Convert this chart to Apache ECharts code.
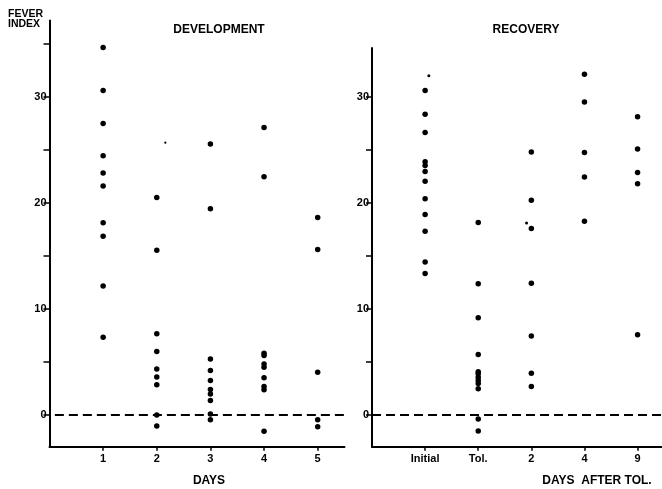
<!DOCTYPE html>
<html><head><meta charset="utf-8">
<script src="https://cdn.jsdelivr.net/npm/echarts@6/dist/echarts.min.js"></script>
<style>html,body{margin:0;padding:0;background:#fff}#c{width:662px;height:489px}</style>
</head><body><div id="c"></div>
<script>
// ---- Development panel (x = day 1..5) ----
const devDays = [1, 2, 3, 4, 5];
const dev1 = [34.65, 30.59, 27.47, 24.44, 22.81, 21.58, 18.11, 16.85, 12.16, 7.33];
const dev2 = [20.51, 15.53, 7.66, 5.98, 4.33, 3.58, 2.85, 0.0, -1.04];
const dev3 = [25.55, 19.43, 5.26, 4.19, 3.24, 2.40, 1.96, 1.35, 0.09, -0.45];
const dev4 = [27.09, 22.46, 5.82, 5.60, 4.80, 4.50, 3.50, 2.68, 2.37, -1.55];
const dev5 = [18.62, 15.60, 4.03, -0.47, -1.13];
// ---- Recovery panel ----
const recCats = ["Initial", "Tol.", "2", "4", "9"];
const recInitial = [30.59, 28.36, 26.65, 23.87, 23.52, 22.95, 22.03, 20.40, 18.90, 17.33, 14.42, 13.33];
const recTol = [18.15, 12.38, 9.17, 5.70, 4.07, 3.88, 3.55, 3.24, 2.97, 2.46, -0.38, -1.52];
const rec2 = [24.79, 20.25, 17.58, 12.41, 7.45, 3.92, 2.68];
const rec4 = [32.14, 29.52, 24.76, 22.43, 18.27];
const rec9 = [28.13, 25.08, 22.87, 21.80, 7.56];
// small specks (x position, value)
const devSpecks = [[2.16, 25.67]];
const recSpecks = [[1.07, 31.98], [2.91, 18.10]];
// ticks and reference level
const yTickVals = [0, 5, 10, 15, 20, 25, 30, 35];
const yLabelVals = [0, 10, 20, 30];
const baseline = 0;
const devXRange = [0.1, 5.5];
const recXRange = [0, 5.46];

const devGroups = [dev1, dev2, dev3, dev4, dev5];
const recGroups = [recInitial, recTol, rec2, rec4, rec9];
const devData = [];
devGroups.forEach((g, i) => g.forEach(v => devData.push([devDays[i], v])));
const recData = [];
recGroups.forEach((g, i) => g.forEach(v => recData.push([i + 1, v])));

const FONT = 'Liberation Sans';
function axisLine() {
  return {show: true, onZero: false, lineStyle: {color: '#000', width: 2}};
}
function dashedSeries(xi, range) {
  return {type: 'line', xAxisIndex: xi, yAxisIndex: xi, silent: true, symbol: 'none',
    data: [[range[0], baseline], [range[1], baseline]],
    lineStyle: {color: '#000', width: 2, type: [9, 5]}, z: 1};
}
const dot = {color: '#000', opacity: 1};

const chart = echarts.init(document.getElementById('c'), null, {renderer: 'canvas'});
chart.setOption({
  animation: false,
  backgroundColor: '#fff',
  title: [
    {text: 'DEVELOPMENT', left: 219, top: 24, textAlign: 'center', padding: 0,
     textStyle: {fontFamily: FONT, fontWeight: 'bold', fontSize: 12, color: '#000'}},
    {text: 'RECOVERY', left: 526, top: 24, textAlign: 'center', padding: 0,
     textStyle: {fontFamily: FONT, fontWeight: 'bold', fontSize: 12, color: '#000'}},
    {text: 'FEVER\nINDEX', left: 8, top: 9, padding: 0,
     textStyle: {fontFamily: FONT, fontWeight: 'bold', fontSize: 10.5, lineHeight: 10, color: '#000'}},
    {text: 'DAYS', left: 209, top: 475, textAlign: 'center', padding: 0,
     textStyle: {fontFamily: FONT, fontWeight: 'bold', fontSize: 12, color: '#000'}},
    {text: 'DAYS  AFTER TOL.', left: 597, top: 475, textAlign: 'center', padding: 0,
     textStyle: {fontFamily: FONT, fontWeight: 'bold', fontSize: 12, color: '#000'}}
  ],
  grid: [
    {left: 49.5, top: 20.4, width: 295, height: 426.3},
    {left: 372, top: 48.1, width: 292, height: 398.6}
  ],
  xAxis: [
    {gridIndex: 0, type: 'value', min: 0, max: 5.5, axisLine: axisLine(), splitLine: {show: false},
      axisTick: {show: true, customValues: devDays, length: 4, lineStyle: {color: '#000', width: 1.5}},
      axisLabel: {customValues: devDays, margin: 7, color: '#000', fontFamily: FONT, fontWeight: 'bold', fontSize: 11}},
    {gridIndex: 1, type: 'value', min: 0, max: 5.46, axisLine: axisLine(), splitLine: {show: false},
      axisTick: {show: true, customValues: [1, 2, 3, 4, 5], length: 4, lineStyle: {color: '#000', width: 1.5}},
      axisLabel: {customValues: [1, 2, 3, 4, 5], margin: 7, color: '#000', fontFamily: FONT, fontWeight: 'bold',
        fontSize: 11, formatter: v => recCats[Math.round(v) - 1] || ''}}
  ],
  yAxis: [
    {gridIndex: 0, type: 'value', min: -3, max: 37.2, axisLine: axisLine(), splitLine: {show: false},
      axisTick: {show: true, customValues: yTickVals, length: 6, lineStyle: {color: '#000', width: 1.5}},
      axisLabel: {customValues: yLabelVals, margin: 3, color: '#000', fontFamily: FONT, fontWeight: 'bold', fontSize: 11}},
    {gridIndex: 1, type: 'value', min: -3, max: 34.6, axisLine: axisLine(), splitLine: {show: false},
      axisTick: {show: true, customValues: yTickVals.filter(v => v <= 30), length: 6, lineStyle: {color: '#000', width: 1.5}},
      axisLabel: {customValues: yLabelVals, margin: 3, color: '#000', fontFamily: FONT, fontWeight: 'bold', fontSize: 11}}
  ],
  series: [
    dashedSeries(0, devXRange),
    dashedSeries(1, recXRange),
    {type: 'scatter', xAxisIndex: 0, yAxisIndex: 0, data: devData, symbolSize: 5.5, itemStyle: dot, z: 3},
    {type: 'scatter', xAxisIndex: 0, yAxisIndex: 0, data: devSpecks, symbolSize: 2.2, itemStyle: dot, z: 3},
    {type: 'scatter', xAxisIndex: 1, yAxisIndex: 1, data: recData, symbolSize: 5.5, itemStyle: dot, z: 3},
    {type: 'scatter', xAxisIndex: 1, yAxisIndex: 1, data: recSpecks, symbolSize: 3, itemStyle: dot, z: 3}
  ]
});
</script></body></html>
